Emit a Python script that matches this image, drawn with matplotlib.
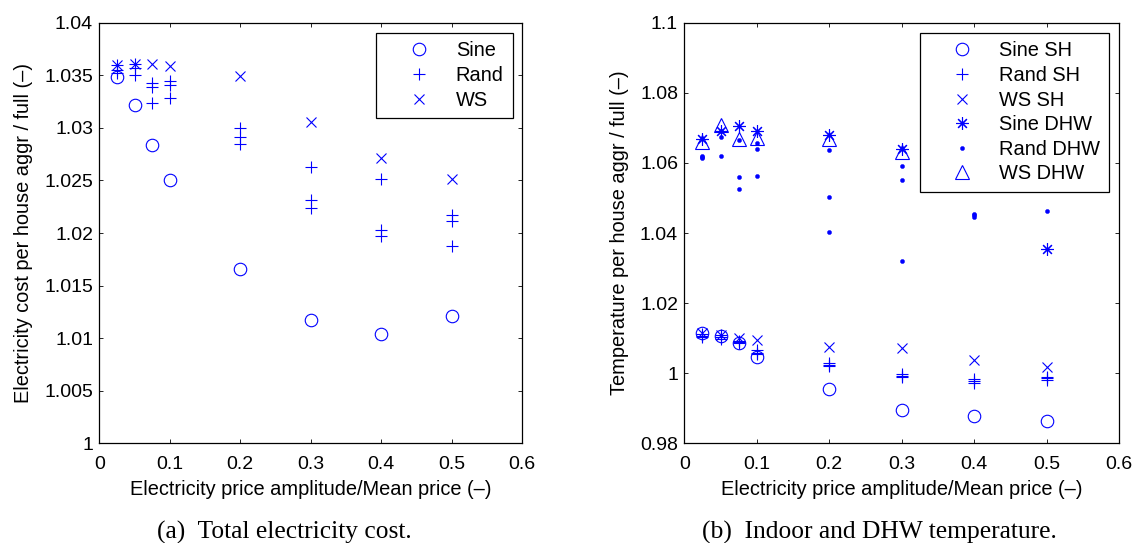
import matplotlib
matplotlib.use("Agg")
import matplotlib.pyplot as plt

# ---------------- data ----------------
amp = [0.025, 0.05, 0.075, 0.1, 0.2, 0.3, 0.4, 0.5]

# (a) total electricity cost
cost_sine = [1.0348, 1.0322, 1.0284, 1.0250, 1.0166, 1.0117, 1.0104, 1.0121]
cost_rand = [[1.0360, 1.0355, 1.0352],
             [1.0361, 1.0357, 1.0350],
             [1.0343, 1.0339, 1.0324],
             [1.0345, 1.0341, 1.0328],
             [1.0300, 1.0291, 1.0285],
             [1.0263, 1.0231, 1.0224],
             [1.0251, 1.0203, 1.0197],
             [1.0217, 1.0211, 1.0188]]
cost_ws = [1.0360, 1.0361, 1.0361, 1.0359, 1.0349, 1.0306, 1.0271, 1.0251]

# (b) indoor (SH) and DHW temperature
sh_sine = [1.0116, 1.0106, 1.0085, 1.0045, 0.9956, 0.9896, 0.9879, 0.9863]
sh_rand = [[1.0112, 1.0106, 1.0102],
           [1.0108, 1.0104, 1.0098],
           [1.0092, 1.0089, 1.0085],
           [1.0066, 1.0058, 1.0055],
           [1.0030, 1.0024, 1.0021],
           [0.9998, 0.9993, 0.9989],
           [0.9983, 0.9978, 0.9973],
           [0.9989, 0.9985, 0.9981]]
sh_ws = [1.0114, 1.0108, 1.0100, 1.0094, 1.0074, 1.0071, 1.0037, 1.0017]

dhw_sine = [1.0667, 1.0692, 1.0706, 1.0692, 1.0679, 1.0640, 1.0640, 1.0354]
dhw_rand = [[1.0620, 1.0617, 1.0614],
            [1.0690, 1.0675, 1.0619],
            [1.0666, 1.0559, 1.0525],
            [1.0656, 1.0641, 1.0562],
            [1.0636, 1.0502, 1.0404],
            [1.0592, 1.0552, 1.0319],
            [1.0455, 1.0450, 1.0446],
            [1.0462, 1.0660, 1.0640]]
dhw_ws = [1.0659, 1.0709, 1.0668, 1.0671, 1.0668, 1.0632, 1.0660, 1.0660]

xticks = [0, 0.1, 0.2, 0.3, 0.4, 0.5, 0.6]
xticklabels = ["0", "0.1", "0.2", "0.3", "0.4", "0.5", "0.6"]
yticks_a = [1, 1.005, 1.01, 1.015, 1.02, 1.025, 1.03, 1.035, 1.04]
yticklabels_a = ["1", "1.005", "1.01", "1.015", "1.02", "1.025", "1.03", "1.035", "1.04"]
yticks_b = [0.98, 1, 1.02, 1.04, 1.06, 1.08, 1.1]
yticklabels_b = ["0.98", "1", "1.02", "1.04", "1.06", "1.08", "1.1"]

xlabel = "Electricity price amplitude/Mean price (\u2013)"
ylabel_a = "Electricity cost per house aggr / full (\u2013)"
ylabel_b = "Temperature per house aggr / full (\u2013)"
caption_a = "(a)  Total electricity cost."
caption_b = "(b)  Indoor and DHW temperature."

# ---------------- style ----------------
plt.rcParams['font.family'] = ['Liberation Sans', 'DejaVu Sans']
FS = 14.4
FS_TICK = 14
BLUE = (0, 0, 1)
MEW = 0.8
W, H = 1134, 543

fig = plt.figure(figsize=(W / 100, H / 100), dpi=100)


def px_axes(x0, x1, ytop, ybot):
    return fig.add_axes([x0 / W, (H - ybot) / H, (x1 - x0) / W, (ybot - ytop) / H])


def style_axes(ax, yticks, yticklabels, ylim, height_px):
    ax.set_xlim(0, 0.6)
    ax.set_ylim(*ylim)
    ax.set_xticks(xticks)
    ax.set_xticklabels(xticklabels, fontsize=FS_TICK)
    ax.set_yticks(yticks)
    ax.set_yticklabels(yticklabels, fontsize=FS_TICK)
    ax.tick_params(direction='in', length=3, width=0.6, top=True, right=True,
                   colors='black')
    ax.tick_params(axis='x', pad=9)
    ax.tick_params(axis='y', pad=4.5)
    for s in ax.spines.values():
        s.set_linewidth(0.9)
    ax.set_xlabel(xlabel, fontsize=FS)
    ax.xaxis.set_label_coords(0.5, -(480 - 443.3) / height_px)


def expand(vals):
    xs, ys = [], []
    for x, row in zip(amp, vals):
        for v in row:
            xs.append(x)
            ys.append(v)
    return xs, ys


def add_legend(ax):
    leg = ax.legend(loc='upper right', fontsize=FS, frameon=True, fancybox=False,
                    framealpha=1, edgecolor='black', handlelength=3.39,
                    handletextpad=0.16, borderpad=0.44, labelspacing=0.28,
                    borderaxespad=0.49)
    leg.get_frame().set_linewidth(0.9)
    return leg


asterisk = (8, 2, 0)
AX_H = 443.3 - 22.7

# ---- (a) ----
axa = px_axes(99.3, 522.3, 22.7, 443.3)
axa.plot(amp, cost_sine, linestyle='none', marker='o', ms=9, mfc='none',
         mec=BLUE, mew=MEW, label='Sine')
xr, yr = expand(cost_rand)
axa.plot(xr, yr, linestyle='none', marker='+', ms=9, mec=BLUE, mew=MEW, label='Rand')
axa.plot(amp, cost_ws, linestyle='none', marker='x', ms=6.5, mec=BLUE, mew=MEW, label='WS')
style_axes(axa, yticks_a, yticklabels_a, (1, 1.04), AX_H)
axa.set_ylabel(ylabel_a, fontsize=FS)
axa.yaxis.set_label_coords((33 - 99.3) / 423.0, 0.5)
add_legend(axa)

# ---- (b) ----
axb = px_axes(684.3, 1119, 22.7, 443.3)
axb.plot(amp, sh_sine, linestyle='none', marker='o', ms=9, mfc='none',
         mec=BLUE, mew=MEW, label='Sine SH')
xr, yr = expand(sh_rand)
axb.plot(xr, yr, linestyle='none', marker='+', ms=9, mec=BLUE, mew=MEW, label='Rand SH')
axb.plot(amp, sh_ws, linestyle='none', marker='x', ms=6.5, mec=BLUE, mew=MEW, label='WS SH')
axb.plot(amp, dhw_sine, linestyle='none', marker=asterisk, ms=9, mec=BLUE, mew=MEW,
         label='Sine DHW')
xr, yr = expand(dhw_rand)
axb.plot(xr, yr, linestyle='none', marker='o', ms=3, mfc=BLUE, mec=BLUE, mew=0.3,
         label='Rand DHW')
axb.plot(amp, dhw_ws, linestyle='none', marker='^', ms=10, mfc='none', mec=BLUE,
         mew=MEW, label='WS DHW')
style_axes(axb, yticks_b, yticklabels_b, (0.98, 1.1), AX_H)
axb.set_ylabel(ylabel_b, fontsize=FS)
axb.yaxis.set_label_coords((629 - 684.3) / 434.7, 0.5)
add_legend(axb)

# captions
serif = ['Liberation Serif', 'DejaVu Serif']
fig.text(157 / W, 1 - 538.3 / H, caption_a, ha='left', va='baseline',
         fontsize=18.4, family=serif)
fig.text(701.7 / W, 1 - 538.3 / H, caption_b, ha='left', va='baseline',
         fontsize=18.4, family=serif)

fig.savefig('out.png', dpi=100)
